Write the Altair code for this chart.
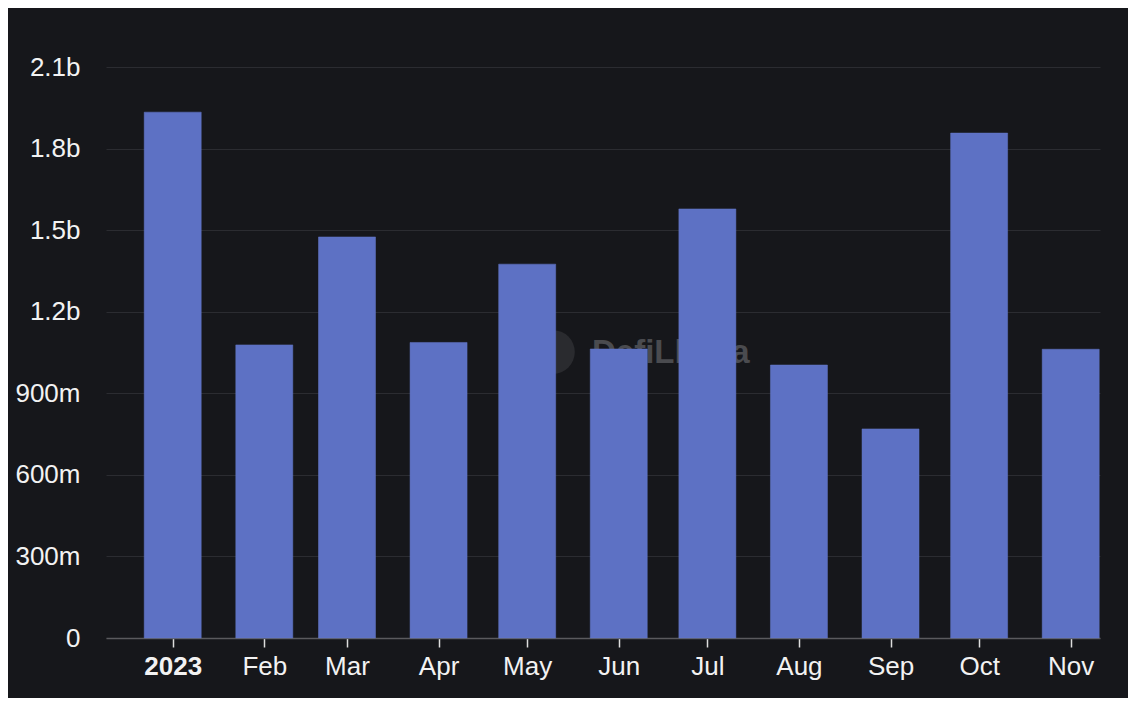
import altair as alt
import pandas as pd

months = ["2023-01-01T00:00:00", "2023-02-01T00:00:00", "2023-03-01T00:00:00",
          "2023-04-01T00:00:00", "2023-05-01T00:00:00", "2023-06-01T00:00:00",
          "2023-07-01T00:00:00", "2023-08-01T00:00:00", "2023-09-01T00:00:00",
          "2023-10-01T00:00:00", "2023-11-01T00:00:00"]
volumes = [1.934e9, 1.078e9, 1.475e9, 1.087e9, 1.375e9, 1.063e9,
           1.578e9, 1.004e9, 0.769e9, 1.857e9, 1.062e9]
y_ticks = [0, 3e8, 6e8, 9e8, 1.2e9, 1.5e9, 1.8e9, 2.1e9]

df = pd.DataFrame({"date": months, "volume": volumes})

BG = "#16171b"
BAR = "#5d71c4"
FONT = "Liberation Sans"

x_scale = alt.Scale(domain=[alt.DateTime(year=2022, month=12, date=9, hours=10),
                            alt.DateTime(year=2023, month=11, date=10, hours=22)],
                    padding=0)
y_scale = alt.Scale(domain=[0, 2.1e9], nice=False)

# watermark (decoration)
wm_text = alt.Chart(pd.DataFrame({"t": ["DefiLlama"]})).mark_text(
    font=FONT, fontSize=33, fontWeight="bold", color="#4a4b4f", align="left", baseline="middle"
).encode(text="t:N", x=alt.value(486), y=alt.value(286))
wm_logo = alt.Chart(pd.DataFrame({"t": ["logo"]})).mark_point(
    filled=True, shape="circle", size=1900, color="#2a2b2f", opacity=1
).encode(x=alt.value(447), y=alt.value(285))

bars = alt.Chart(df).mark_bar(width=57, color=BAR, stroke="#6578c8", strokeWidth=0.5).encode(
    x=alt.X("date:T", scale=x_scale, title=None,
            axis=alt.Axis(tickCount={"interval": "month", "step": 1},
                          labelExpr="month(datum.value) === 0 ? timeFormat(datum.value, '%Y') : timeFormat(datum.value, '%b')",
                          labelFontWeight=alt.expr("month(datum.value) === 0 ? 'bold' : 'normal'"),
                          labelFontSize=26, labelFont=FONT, labelColor="#f2f2f2",
                          labelPadding=6, tickSize=9, tickColor="#dddddd", tickWidth=1.5,
                          domainColor="#5a5a5e", domainWidth=1.5, grid=False,
                          labelFlush=False, labelOverlap=False)),
    y=alt.Y("volume:Q", scale=y_scale, title=None,
            axis=alt.Axis(values=y_ticks,
                          labelExpr="datum.value == 0 ? '0' : (datum.value < 1e9 ? format(datum.value/1e6, 'd') + 'm' : format(datum.value/1e9, '.1f') + 'b')",
                          labelFontSize=26, labelFont=FONT, labelColor="#f2f2f2",
                          labelPadding=26, ticks=False, domain=False,
                          grid=True, gridColor="#2b2c31", gridWidth=1.2)),
)

chart = alt.layer(wm_logo, wm_text, bars).properties(
    width=994, height=571,
    background=BG,
    padding={"left": 98, "top": 59, "right": 28, "bottom": 60},
    autosize=alt.AutoSizeParams(type="none"),
).configure_view(stroke=None)

chart.save("out.html", embed_options={"renderer": "svg", "actions": False})
